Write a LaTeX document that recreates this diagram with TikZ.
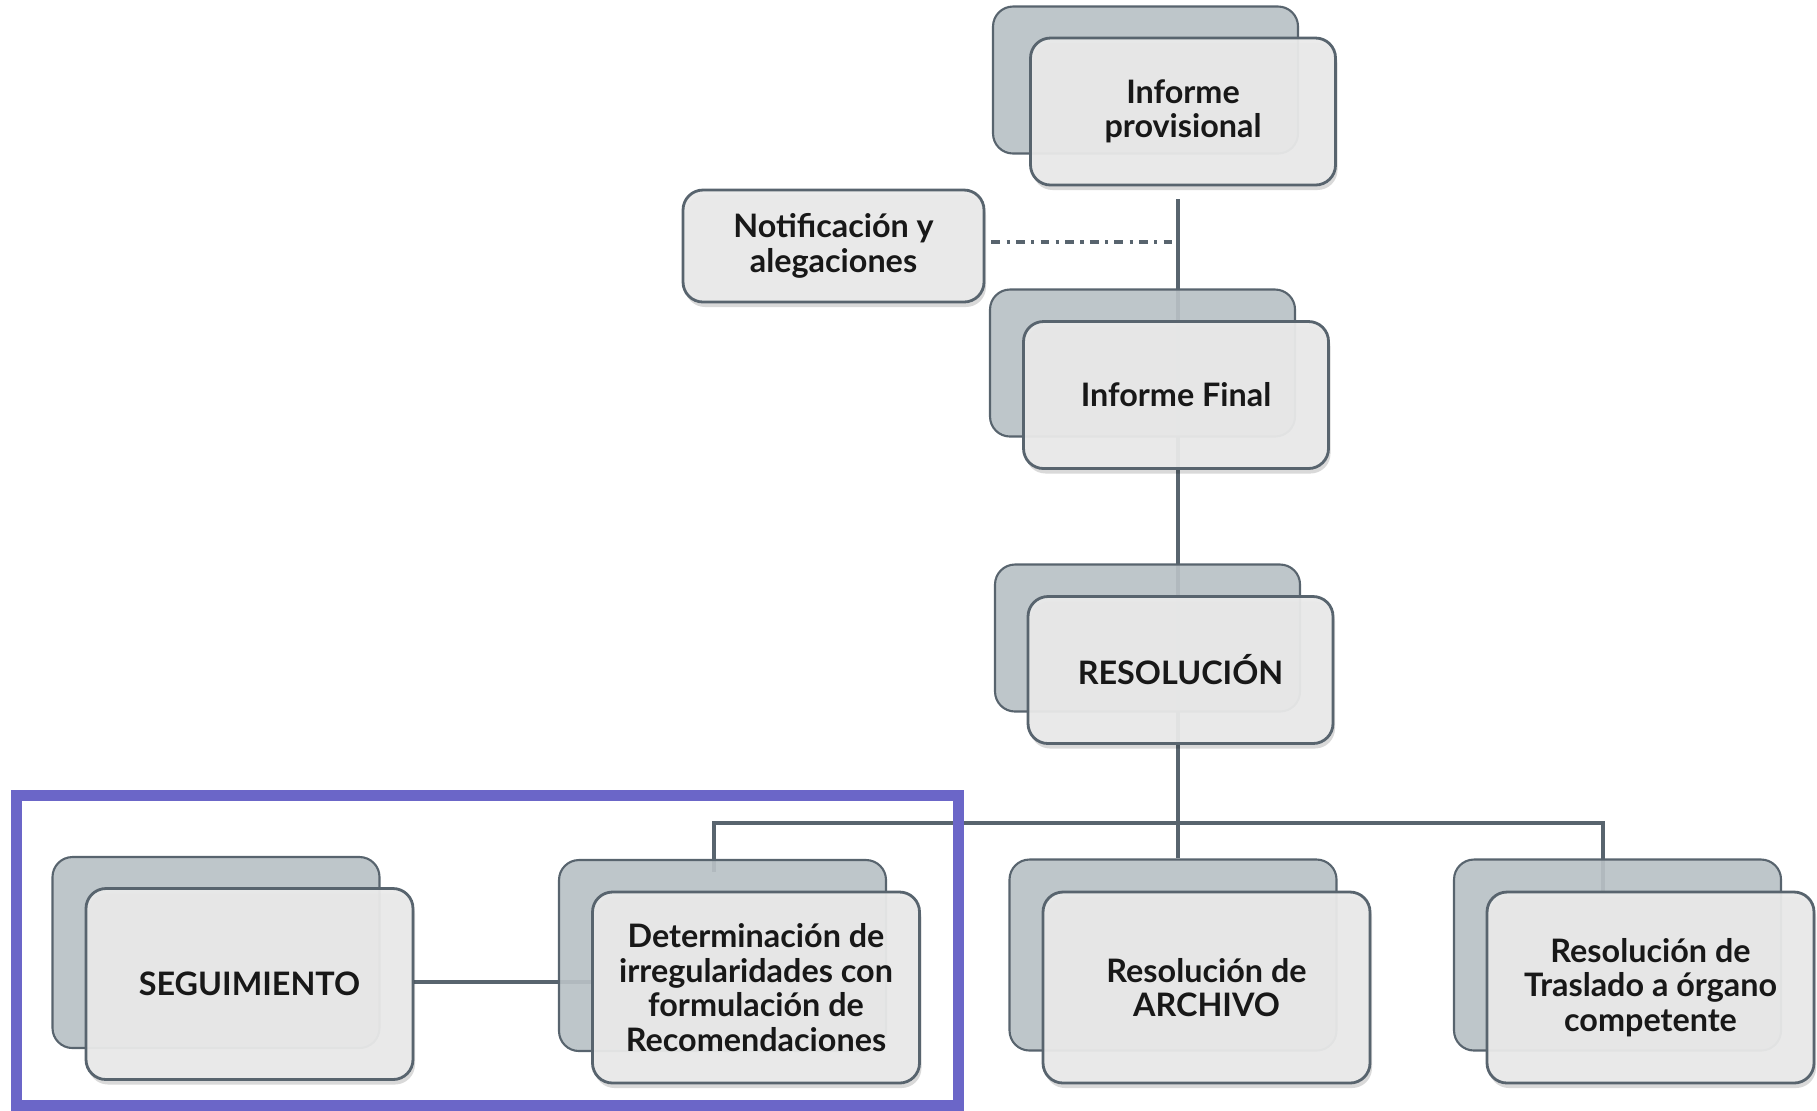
\documentclass[tikz,border=0pt]{standalone}
\usepackage{fontspec}
\setmainfont{Lato}
\usepackage{xcolor}
\usepackage{tikz}
\usetikzlibrary{shadows,backgrounds}

\definecolor{boxline}{RGB}{88,100,110}
\definecolor{backfill}{RGB}{185,193,197}
\definecolor{frontfill}{RGB}{234,234,234}
\definecolor{textdark}{RGB}{24,24,24}
\definecolor{framecol}{RGB}{107,102,200}

\tikzset{
	backbox/.style={draw=boxline, line width=0.6pt, fill=backfill, fill opacity=0.92, rounded corners=0.2cm, inner sep=0pt},
	frontbox/.style={draw=boxline, line width=0.8pt, fill=frontfill, fill opacity=0.95, text opacity=1, rounded corners=0.2cm, inner sep=0pt,
		text=textdark, font=\fontsize{9.2}{9.8}\selectfont\bfseries, align=center,
		drop shadow={fill=black, opacity=0.15, shadow xshift=0.02cm, shadow yshift=-0.05cm}},
	toprow/.style={minimum width=3.05cm, minimum height=1.47cm},
	lowrow/.style={minimum width=3.27cm, minimum height=1.91cm},
	link/.style={draw=boxline, line width=0.95pt},
	dashlink/.style={draw=boxline, line width=0.9pt, dash pattern=on 2.5pt off 1.8pt on 0.9pt off 1.8pt},
}

\begin{document}
\begin{tikzpicture}
	\useasboundingbox (0,0) rectangle (18.17,-11.10);
	\coordinate (spine) at (11.78,0);
	\coordinate (busL) at (7.14,-8.23);
	\coordinate (busR) at (16.03,-8.23);

	% top chain
	\node[backbox, toprow] (provB) at (11.455,-0.80) {};
	\node[frontbox, toprow] (prov) at (11.83,-1.115) {Informe\\provisional};
	\node[frontbox, minimum width=3.01cm, minimum height=1.12cm] (notif) at (8.335,-2.46) {Notificación y\\alegaciones};
	\node[backbox, toprow] (finalB) at (11.425,-3.63) {};
	\node[frontbox, toprow] (final) at (11.76,-3.95) {Informe Final};
	\node[backbox, toprow] (resolB) at (11.475,-6.38) {};
	\node[frontbox, toprow] (resol) at (11.805,-6.70) {RESOLUCIÓN};

	% bottom row
	\node[backbox, lowrow] (segB) at (2.16,-9.525) {};
	\node[frontbox, lowrow] (seg) at (2.495,-9.84) {SEGUIMIENTO};
	\node[backbox, lowrow] (detB) at (7.225,-9.555) {};
	\node[frontbox, lowrow] (det) at (7.56,-9.875) {Determinación de\\irregularidades con\\formulación de\\Recomendaciones};
	\node[backbox, lowrow] (archB) at (11.73,-9.55) {};
	\node[frontbox, lowrow] (arch) at (12.065,-9.875) {Resolución de\\ARCHIVO};
	\node[backbox, lowrow] (trasB) at (16.175,-9.55) {};
	\node[frontbox, lowrow] (tras) at (16.505,-9.875) {Resolución de\\Traslado a órgano\\competente};

	\begin{scope}[on background layer]
		\draw[link] ([yshift=-0.13cm]prov.south -| spine) -- (archB.north -| spine);
		\draw[dashlink] ([shift={(0.06,0.04)}]notif.east) -- ([yshift=0.04cm]notif.east -| spine);
		\draw[link] ([yshift=-0.13cm]detB.north -| busL) -- (busL) -- (busR) -- (tras.north -| busR);
		\draw[link] ([yshift=0.02cm]seg.east) -- ([yshift=0.02cm]seg.east -| det.west);
	\end{scope}

	% highlight frame
	\draw[framecol, line width=0.11cm] (0.165,-7.95) rectangle (9.58,-11.05);
\end{tikzpicture}
\end{document}
